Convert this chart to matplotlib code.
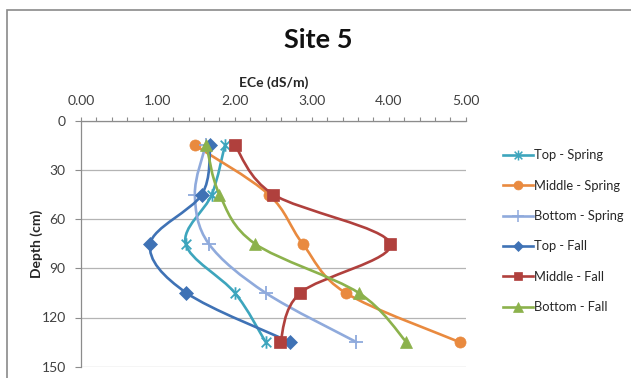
import numpy as np
import matplotlib.pyplot as plt
from matplotlib.path import Path
from matplotlib.patches import PathPatch, Rectangle
from matplotlib.lines import Line2D
from matplotlib.ticker import MultipleLocator, FormatStrFormatter

plt.rcParams['font.family'] = ['Lato', 'DejaVu Sans']

# data
depth = [15, 45, 75, 105, 135]
labels = ["Top - Spring", "Middle - Spring", "Bottom - Spring",
          "Top - Fall", "Middle - Fall", "Bottom - Fall"]
top_spring = [1.87, 1.70, 1.36, 2.00, 2.40]
middle_spring = [1.48, 2.44, 2.88, 3.44, 4.92]
bottom_spring = [1.62, 1.48, 1.66, 2.40, 3.58]
top_fall = [1.68, 1.57, 0.90, 1.37, 2.72]
middle_fall = [2.00, 2.50, 4.02, 2.85, 2.59]
bottom_fall = [1.63, 1.80, 2.26, 3.61, 4.23]
series = [top_spring, middle_spring, bottom_spring, top_fall, middle_fall, bottom_fall]

colors = ['#3DA5BD', '#E98A3F', '#8FAADC', '#3F72B5', '#B0403D', '#8CB24C']

# excel "star" marker: an x with a vertical bar
star = Path([(-1, -1), (1, 1), (-1, 1), (1, -1), (0, -1.3), (0, 1.3)],
            [Path.MOVETO, Path.LINETO, Path.MOVETO, Path.LINETO, Path.MOVETO, Path.LINETO])
markers = [star, 'o', '+', 'D', 's', '^']
msizes = [9, 8, 10, 7, 8, 8.5]


def smooth_path(xs, ys):
    # excel style smoothed line: bezier segments through every point
    pts = np.column_stack([xs, ys]).astype(float)
    p = np.vstack([pts[0], pts, pts[-1]])
    verts = [pts[0]]
    codes = [Path.MOVETO]
    for i in range(1, len(p) - 2):
        c1 = p[i] + (p[i + 1] - p[i - 1]) / 6
        c2 = p[i + 1] - (p[i + 2] - p[i]) / 6
        verts += [c1, c2, p[i + 1]]
        codes += [Path.CURVE4] * 3
    return Path(verts, codes)


fig = plt.figure(figsize=(6.31, 3.78), dpi=100)
ax = fig.add_axes([81 / 631, 1 - 366.7 / 378, 384.7 / 631, 246 / 378])

handles = []
for i, (vals, lab) in enumerate(zip(series, labels)):
    col = colors[i]
    ax.add_patch(PathPatch(smooth_path(vals, depth), fill=False, edgecolor=col,
                           lw=1.9, zorder=2 + 2 * i, capstyle='round', joinstyle='round'))
    lined = markers[i] in (star, '+')
    ax.plot(vals, depth, ls='none', marker=markers[i], ms=msizes[i],
            color=col, mec=col, mew=1.3 if lined else 0.5, zorder=3 + 2 * i)
    handles.append(Line2D([], [], color=col, lw=1.9, marker=markers[i],
                          ms=msizes[i] * 0.8, mec=col, mew=1.1 if lined else 0.5))

ax.set_xlim(0, 5)
ax.set_ylim(150, 0)
ax.xaxis.tick_top()
ax.xaxis.set_label_position('top')
ax.xaxis.set_major_locator(MultipleLocator(1))
ax.xaxis.set_minor_locator(MultipleLocator(0.2))
ax.xaxis.set_major_formatter(FormatStrFormatter('%.2f'))
ax.yaxis.set_major_locator(MultipleLocator(30))

ax.tick_params(axis='x', which='both', direction='out', length=3, width=0.8,
               color='#8c8c8c', labelsize=10, labelcolor='#404040', pad=7)
ax.tick_params(axis='y', direction='out', length=4, width=0.8, color='#8c8c8c',
               labelsize=10, labelcolor='#404040', pad=7)
ax.grid(axis='y', color='#b4b4b4', lw=0.9)
ax.set_axisbelow(True)
for s in ['right', 'bottom']:
    ax.spines[s].set_visible(False)
for s in ['left', 'top']:
    ax.spines[s].set_color('#8c8c8c')
    ax.spines[s].set_linewidth(0.9)

ax.set_xlabel("ECe (dS/m)", fontsize=10, fontweight='bold', color='#262626', labelpad=6)
ax.set_ylabel("Depth (cm)", fontsize=10, fontweight='bold', color='#262626', labelpad=-1)
fig.text(318 / 631, 1 - 40 / 378, "Site 5", ha='center', va='center',
         fontsize=19.5, fontweight='bold', color='#111111')

fig.legend(handles, labels, loc='upper left', bbox_to_anchor=(497 / 631, 1 - 143 / 378),
           frameon=False, fontsize=9.3, handlelength=2.3, handletextpad=0.1,
           labelspacing=1.42, borderpad=0, labelcolor='#262626')

# chart frame (cut off at the right and bottom in the picture)
fig.patches.append(Rectangle((6.5 / 631, -0.1), 1.2, 1 - 9.5 / 378 + 0.1,
                             transform=fig.transFigure, fill=False,
                             edgecolor='#8a8a8a', lw=1.2))

fig.savefig('out.png', dpi=100)
